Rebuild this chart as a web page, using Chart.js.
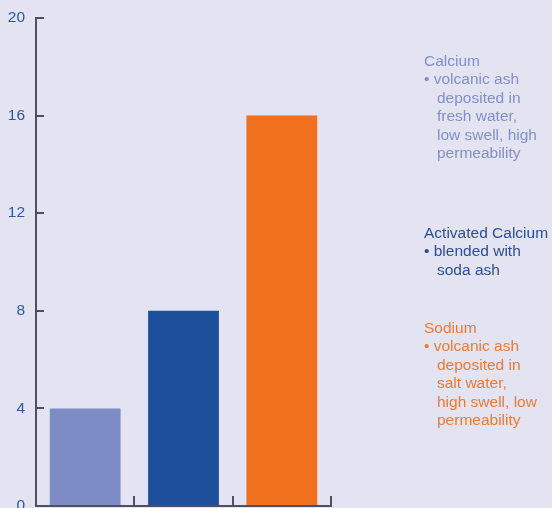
<!DOCTYPE html>
<html>
<head>
<meta charset="utf-8">
<script src="https://cdn.jsdelivr.net/npm/chart.js@4"></script>
<style>
    html, body { margin: 0; padding: 0; background: #e3e3f1; overflow: hidden; }
    #wrap { position: relative; width: 552px; height: 508px; }
    #chart { position: absolute; left: 0; top: 0; }
    .note {
        position: absolute;
        left: 424px;
        font-family: "Liberation Sans", Arial, sans-serif;
        font-size: 15.5px;
        line-height: 18.4px;
        white-space: nowrap;
    }
    .note .more { padding-left: 13px; }
</style>
</head>
<body>
<div id="wrap">
    <canvas id="chart" width="552" height="508"></canvas>
</div>
<script>
// chart data
const categories = ['Calcium', 'Activated Calcium', 'Sodium'];
const values = [4, 8, 16];
const barColors = ['#7e8cc6', '#1e4f9b', '#f0701e'];
const yTicks = [0, 4, 8, 12, 16, 20];

// side notes, one per bar
const noteTitles = ['Calcium', 'Activated Calcium', 'Sodium'];
const noteLines = [
    ['volcanic ash', 'deposited in', 'fresh water,', 'low swell, high', 'permeability'],
    ['blended with', 'soda ash'],
    ['volcanic ash', 'deposited in', 'salt water,', 'high swell, low', 'permeability']
];
const noteColors = ['#8190cc', '#2a4f9b', '#f07a30'];
const noteTops = [52, 224, 319];

const axisColor = '#4b5064';

function buildNotes() {
    const wrap = document.getElementById('wrap');
    noteTitles.forEach((title, i) => {
        const div = document.createElement('div');
        div.className = 'note';
        div.style.top = noteTops[i] + 'px';
        div.style.color = noteColors[i];
        let html = `<div>${title}</div>`;
        noteLines[i].forEach((line, j) => {
            if (j === 0) {
                html += `<div>\u2022 ${line}</div>`;
            } else {
                html += `<div class="more">${line}</div>`;
            }
        });
        div.innerHTML = html;
        wrap.appendChild(div);
    });
}

buildNotes();

const ctx = document.getElementById('chart').getContext('2d');
new Chart(ctx, {
    type: 'bar',
    data: {
        labels: categories,
        datasets: [{
            data: values,
            backgroundColor: barColors,
            borderWidth: 0,
            categoryPercentage: 1,
            barPercentage: 0.72
        }]
    },
    options: {
        responsive: false,
        animation: false,
        layout: {
            padding: { left: 0, top: 18, right: 221, bottom: 0 }
        },
        plugins: {
            legend: { display: false },
            tooltip: { enabled: false }
        },
        scales: {
            x: {
                offset: true,
                ticks: { display: false },
                border: { display: true, color: axisColor, width: 2 },
                grid: {
                    offset: true,
                    drawOnChartArea: false,
                    drawTicks: true,
                    tickLength: -10,
                    color: axisColor,
                    lineWidth: 2
                },
                afterFit: function (scale) {
                    scale.height = 2; // axis line only
                }
            },
            y: {
                min: 0,
                max: 20,
                afterBuildTicks: function (scale) {
                    scale.ticks = yTicks.map(v => ({ value: v }));
                },
                ticks: {
                    padding: 19,
                    color: '#2d58a8',
                    font: { family: '"Liberation Sans", Arial, sans-serif', size: 15.5 }
                },
                border: { display: true, color: axisColor, width: 2 },
                grid: {
                    drawOnChartArea: false,
                    drawTicks: true,
                    tickLength: -8, // ticks point inward
                    color: axisColor,
                    lineWidth: 2
                },
                afterFit: function (scale) {
                    scale.width = 36;
                    scale.paddingTop = 0;
                    scale.paddingBottom = 0;
                }
            }
        }
    }
});
</script>
</body>
</html>
